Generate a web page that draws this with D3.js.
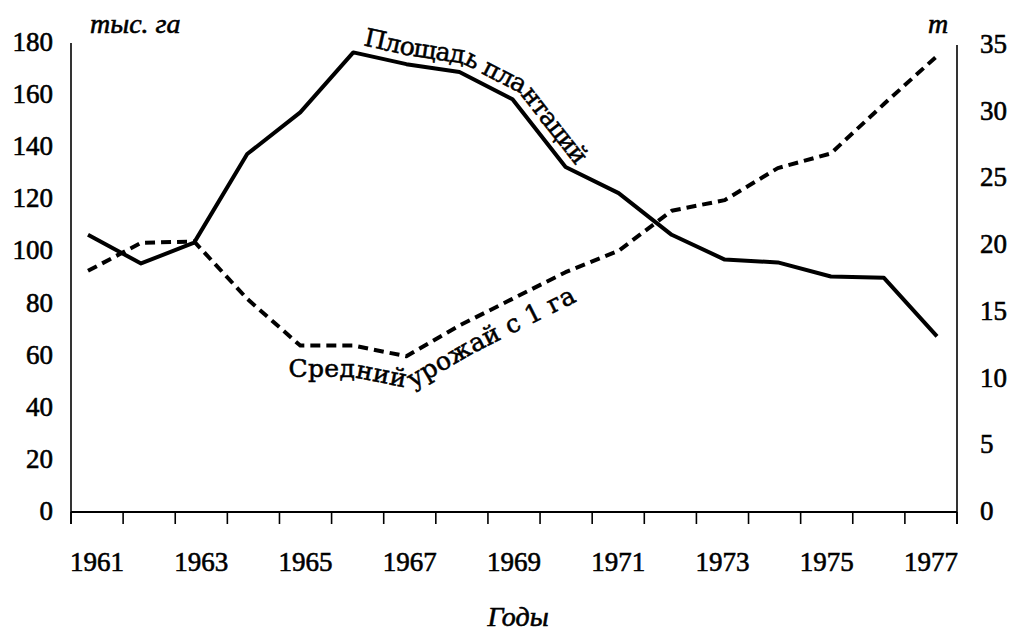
<!DOCTYPE html>
<html>
<head>
<meta charset="utf-8">
<script src="https://cdn.jsdelivr.net/npm/d3@7"></script>
<style>
  html, body { margin: 0; padding: 0; background: #fff; }
  svg { display: block; }
  text { font-family: "Liberation Serif", "DejaVu Serif", serif; fill: #000; }
  .num { stroke: #000; stroke-width: 0.6px; }
  .curve { font-family: "DejaVu Serif", serif; stroke: #000; stroke-width: 0.55px; }
</style>
</head>
<body>
<svg id="chart" width="1013" height="631"></svg>
<script>
// ---- data ----
const years = [1961, 1962, 1963, 1964, 1965, 1966, 1967, 1968, 1969, 1970, 1971, 1972, 1973, 1974, 1975, 1976, 1977];
const yearLabels = ["1961", "1963", "1965", "1967", "1969", "1971", "1973", "1975", "1977"];
// Площадь плантаций, тыс. га (left axis)
const areaValues = [106, 95, 103, 137, 153, 176, 171.5, 168.5, 158, 132, 122, 106, 96.5, 95.4, 90, 89.5, 67];
// Средний урожай с 1 га, т (right axis)
const yieldValues = [18.0, 20.1, 20.2, 15.9, 12.4, 12.4, 11.6, 13.9, 15.9, 17.9, 19.5, 22.5, 23.3, 25.7, 26.8, 30.5, 34.1];
const leftTicks = [0, 20, 40, 60, 80, 100, 120, 140, 160, 180];
const rightTicks = [0, 5, 10, 15, 20, 25, 30, 35];
const leftUnit = "тыс. га";
const rightUnit = "т";
const xTitle = "Годы";
const areaLabel = "Площадь плантаций";
const yieldLabel = "Средний урожай с 1 га";

// ---- scales ----
const svg = d3.select("#chart");
const xBand = d3.scaleBand().domain(years).range([71, 957]);
const xPoint = d3.scalePoint().domain(years).range([88, 937]);
const yLeft = d3.scaleLinear().domain([0, 180]).range([511, 42]);
const yRight = d3.scaleLinear().domain([0, 35]).range([511, 44]);

// ---- axes ----
const axisG = svg.append("g").attr("stroke", "#000").attr("fill", "none");
axisG.append("line").attr("x1", 71).attr("x2", 71).attr("y1", 43).attr("y2", 524).attr("stroke-width", 1.6);
axisG.append("line").attr("x1", 957).attr("x2", 957).attr("y1", 45).attr("y2", 524).attr("stroke-width", 1.6);
axisG.append("line").attr("x1", 71).attr("x2", 957).attr("y1", 512).attr("y2", 512).attr("stroke-width", 2.2);
const tickXs = years.map(y => xBand(y)).concat([xBand.range()[1]]);
axisG.selectAll("line.tick").data(tickXs).join("line").attr("class", "tick")
  .attr("x1", d => d).attr("x2", d => d).attr("y1", 512).attr("y2", 524).attr("stroke-width", 1.6);

svg.append("g").selectAll("text").data(leftTicks).join("text").attr("class", "num")
  .attr("x", 53).attr("y", d => yLeft(d) + 9).attr("text-anchor", "end")
  .attr("font-size", 27).text(d => d);
svg.append("g").selectAll("text").data(rightTicks).join("text").attr("class", "num")
  .attr("x", 980).attr("y", d => yRight(d) + 9).attr("text-anchor", "start")
  .attr("font-size", 27).text(d => d);
svg.append("g").selectAll("text").data(yearLabels).join("text").attr("class", "num")
  .attr("x", d => xBand(+d) + xBand.bandwidth() / 2).attr("y", 571).attr("text-anchor", "middle")
  .attr("font-size", 27).text(d => d);

svg.append("text").attr("class", "num").attr("x", 90).attr("y", 33).attr("font-size", 28).attr("font-style", "italic").text(leftUnit);
svg.append("text").attr("class", "num").attr("x", 938).attr("y", 33).attr("font-size", 28).attr("font-style", "italic").attr("text-anchor", "middle").text(rightUnit);
svg.append("text").attr("class", "num").attr("x", 518).attr("y", 626).attr("font-size", 28).attr("font-style", "italic").attr("text-anchor", "middle").text(xTitle);

// ---- lines ----
const areaPts = years.map((y, i) => [xPoint(y), yLeft(areaValues[i])]);
const yieldPts = years.map((y, i) => [xPoint(y), yRight(yieldValues[i])]);
const line = d3.line();
svg.append("path").attr("d", line(areaPts)).attr("fill", "none").attr("stroke", "#000")
  .attr("stroke-width", 4).attr("stroke-linejoin", "round");
svg.append("path").attr("d", line(yieldPts)).attr("fill", "none").attr("stroke", "#000")
  .attr("stroke-width", 4).attr("stroke-dasharray", "10,6").attr("stroke-linejoin", "round");

// ---- curved labels (offset polylines) ----
function offsetPolyline(pts, d) {
  const segs = [];
  for (let i = 0; i < pts.length - 1; i++) {
    const [x0, y0] = pts[i], [x1, y1] = pts[i + 1];
    const len = Math.hypot(x1 - x0, y1 - y0);
    const nx = (y1 - y0) / len, ny = -(x1 - x0) / len;
    segs.push([[x0 + d * nx, y0 + d * ny], [x1 + d * nx, y1 + d * ny]]);
  }
  const out = [segs[0][0]];
  for (let i = 0; i < segs.length - 1; i++) {
    const [a, b] = segs[i], [c, e] = segs[i + 1];
    const r = [b[0] - a[0], b[1] - a[1]], s = [e[0] - c[0], e[1] - c[1]];
    const den = r[0] * s[1] - r[1] * s[0];
    if (Math.abs(den) < 1e-9) { out.push(b); continue; }
    const t = ((c[0] - a[0]) * s[1] - (c[1] - a[1]) * s[0]) / den;
    out.push([a[0] + t * r[0], a[1] + t * r[1]]);
  }
  out.push(segs[segs.length - 1][1]);
  return out;
}
const defs = svg.append("defs");
const i1966 = years.indexOf(1966), i1971 = years.indexOf(1971);
const areaOff = offsetPolyline(areaPts.slice(i1966, i1971 + 1), 9);
defs.append("path").attr("id", "areaPath").attr("d", line(areaOff));
svg.append("text").attr("class", "curve").attr("font-size", 25)
  .append("textPath").attr("href", "#areaPath").attr("startOffset", 8)
  .attr("textLength", 258).attr("lengthAdjust", "spacing").text(areaLabel);

const i1964 = years.indexOf(1964), i1971b = years.indexOf(1971);
const yieldOff = offsetPolyline(yieldPts.slice(i1964, i1971b + 1), -31);
defs.append("path").attr("id", "yieldPath").attr("d", line(yieldOff));
const startLen = Math.hypot(yieldOff[1][0] - yieldOff[0][0], yieldOff[1][1] - yieldOff[0][1]);
svg.append("text").attr("class", "curve").attr("font-size", 25)
  .append("textPath").attr("href", "#yieldPath").attr("startOffset", startLen)
  .attr("textLength", 312).attr("lengthAdjust", "spacing").text(yieldLabel);
</script>
</body>
</html>
